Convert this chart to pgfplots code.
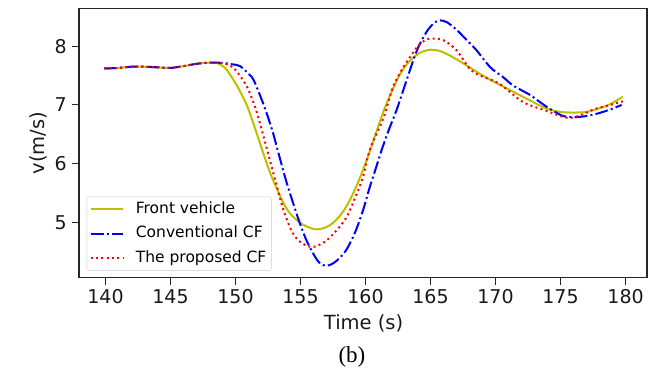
\documentclass[border=0pt]{standalone}
\usepackage{pgfplots}
\pgfplotsset{compat=1.18}
\usepackage{fontspec}
\setmainfont{DejaVu Sans}
\newfontfamily\serifb{Liberation Serif}
\definecolor{myyellow}{rgb}{0.75,0.75,0}
\definecolor{legedge}{HTML}{CCCCCC}
\begin{document}
\begin{tikzpicture}
\path[use as bounding box] (-79pt,-90pt) rectangle (577pt,277.5pt);
\begin{axis}[
  at={(0pt,0pt)}, anchor=south west,
  scale only axis, width=568pt, height=269pt,
  clip=false,
  xmin=137.96, xmax=181.65, ymin=4.06, ymax=8.642,
  xtick={140,145,...,180}, ytick={5,6,7,8},
  xtick pos=bottom, ytick pos=left,
  tick align=outside, major tick length=7pt,
  tick style={line width=1.2pt, black!85},
  axis line style={line width=1.2pt, black!85},
  /pgf/number format/assume math mode=true,
  ticklabel style={font=\fontsize{19}{22}\selectfont, inner sep=0pt, text=black!90},
  xticklabel shift=5pt, yticklabel shift=5pt,
  xlabel={Time (s)}, ylabel={v(m/s)},
  label style={font=\fontsize{19.5}{22}\selectfont, text=black!90},
  xlabel style={at={(axis description cs:0.501,-0.172)}, anchor=center},
  ylabel style={at={(axis description cs:-0.0722,0.5)}, anchor=center},
  legend cell align=left,
  legend style={at={(axis description cs:0.0135,0.026)}, anchor=south west,
    draw=legedge, rounded corners=2pt, fill=white,
    font=\fontsize{15.5}{18}\selectfont, inner xsep=3pt, inner ysep=2.5pt,
    row sep=5pt,
    nodes={inner sep=2pt, text height=12pt, text depth=3.5pt},
    /tikz/every odd column/.append style={column sep=10pt}},
  legend image code/.code={\draw[#1] (0pt,0pt) -- (32pt,0pt);},
  every axis plot/.append style={line width=2pt},
]
\addplot[myyellow, smooth, tension=0.5] coordinates {
(139.9,7.62) (141,7.63) (142,7.65) (143,7.65) (144,7.64) (145,7.63) (146,7.66) (147,7.70) (148,7.72) (148.6,7.71)
(149.2,7.63) (149.83,7.43) (150.3,7.25) (150.9,6.98) (151.5,6.60) (152.1,6.20) (152.65,5.85) (153.2,5.56) (153.8,5.28)
(154.2,5.15) (154.7,5.04) (155.2,4.96) (155.7,4.91) (156.2,4.88) (156.9,4.91) (157.5,4.99) (158.2,5.16) (158.8,5.38)
(159.5,5.72) (160.2,6.13) (160.8,6.52) (161.4,6.90) (162.0,7.22) (162.65,7.52) (163.2,7.70) (163.7,7.81) (164.3,7.90)
(165.0,7.94) (165.7,7.92) (166.5,7.84) (167.5,7.71) (168.8,7.53) (170.0,7.38) (171.4,7.22) (172.7,7.07) (173.9,6.94)
(175.0,6.88) (176.0,6.87) (177.0,6.88) (177.8,6.93) (178.8,7.01) (179.8,7.14)
};
\addlegendentry{Front vehicle}
\addplot[blue, smooth, tension=0.5, dash pattern=on 12.8pt off 3.2pt on 2pt off 3.2pt] coordinates {
(139.9,7.62) (141,7.63) (142,7.65) (143,7.65) (144,7.64) (145,7.63) (146,7.66) (147,7.70) (148,7.72) (148.6,7.72)
(149.2,7.71) (149.8,7.69) (150.35,7.66) (151.0,7.53) (151.4,7.42) (152.1,7.04) (152.5,6.79) (152.9,6.51) (153.4,6.10)
(153.9,5.70) (154.5,5.28) (155.0,4.95) (155.5,4.67) (156.1,4.42) (156.5,4.30) (157.0,4.26)
(157.5,4.30) (158.0,4.39) (158.55,4.54) (159.2,4.83) (159.8,5.20) (160.3,5.58) (160.85,5.96) (161.25,6.24) (161.8,6.58)
(162.4,6.92) (162.9,7.25) (163.4,7.58) (163.8,7.84) (164.2,8.05) (164.8,8.28) (165.3,8.40) (165.7,8.44) (166.25,8.41)
(167,8.28) (167.8,8.10) (168.5,7.94) (169.6,7.64) (170.6,7.47) (171.35,7.33) (172.65,7.17) (173.4,7.05) (174.2,6.93)
(175.2,6.81) (176,6.79) (177,6.81) (177.8,6.85) (178.8,6.92) (179.7,7.00)
};
\addlegendentry{Conventional CF}
\addplot[red, smooth, tension=0.5, dash pattern=on 2pt off 3.3pt] coordinates {
(139.9,7.62) (141,7.63) (142,7.65) (143,7.65) (144,7.64) (145,7.63) (146,7.66) (147,7.70) (148,7.72) (148.6,7.72)
(149.2,7.70) (149.8,7.64) (150.4,7.48) (150.9,7.30) (151.3,7.09) (151.6,6.90) (152.1,6.51) (152.65,6.05) (153.2,5.60)
(153.7,5.20) (154.3,4.86) (154.8,4.70) (155.3,4.62) (155.8,4.58) (156.3,4.60) (157.0,4.69) (157.8,4.87)
(158.55,5.09) (159.2,5.42) (159.8,5.77) (160.35,6.25) (161.4,6.79) (162.1,7.30) (162.9,7.64) (163.95,7.98) (164.5,8.09)
(165.0,8.13) (166.0,8.10) (167.0,7.93) (168.0,7.62) (168.8,7.50) (170.3,7.36) (172.1,7.05) (173.9,6.90) (175.5,6.78)
(176.5,6.82) (177.5,6.92) (178.5,6.98) (179.8,7.06)
};
\addlegendentry{The proposed CF}
\node[font=\serifb\fontsize{23}{26}\selectfont, anchor=center] at (axis description cs:0.4806,-0.297) {(b)};
\end{axis}
\end{tikzpicture}
\end{document}
